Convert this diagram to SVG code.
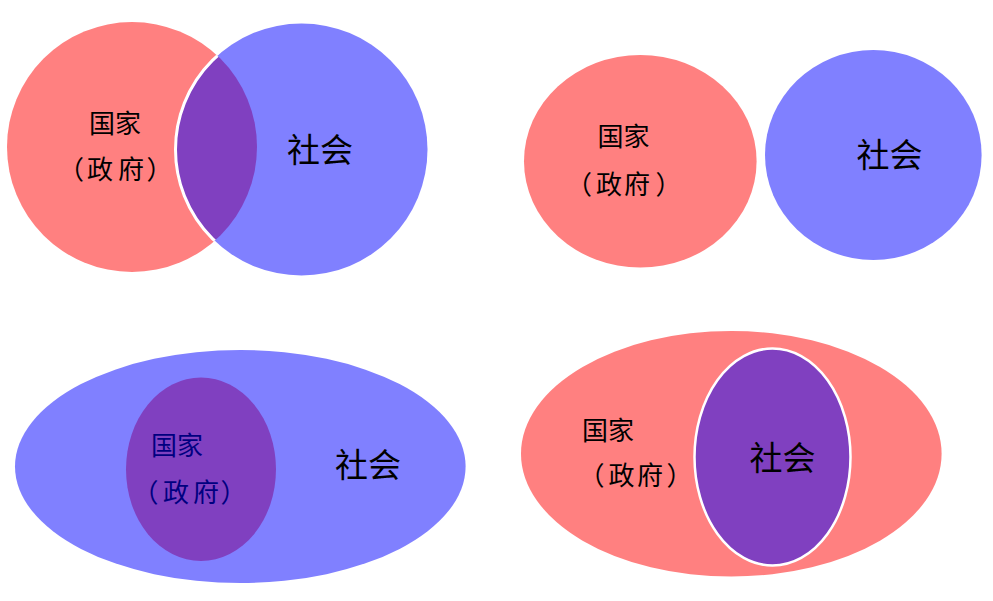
<svg xmlns="http://www.w3.org/2000/svg" width="993" height="601" viewBox="0 0 993 601">
<style>
.red{fill:#FF8080}
.blue{fill:#8080FF}
.purple{fill:#8040C0}
.t{font-family:"Liberation Serif","Noto Sans CJK SC",serif;text-anchor:middle;fill:#000}
.s{font-size:26px}
.l{font-size:33px}
.navy{fill:#000080}
</style>
<defs>
<clipPath id="redClip"><circle cx="132" cy="147" r="125"/></clipPath>
</defs>
<rect width="993" height="601" fill="#fff"/>
<g id="venn-overlap">
<circle class="red" cx="132" cy="147" r="125"/>
<circle class="blue" cx="301.5" cy="149.5" r="126"/>
<circle class="purple" cx="301.5" cy="149.5" r="126" clip-path="url(#redClip)"/>
<circle cx="301.5" cy="149.5" r="126" fill="none" stroke="#fff" stroke-width="3" clip-path="url(#redClip)"/>
<text class="t s" x="115" y="133">国家</text>
<text class="t s" x="71 100 131 159.5" y="179">（政府）</text>
<text class="t l" x="320" y="162">社会</text>
</g>
<g id="venn-separate">
<ellipse class="red" cx="640.3" cy="161.3" rx="116.3" ry="106.3"/>
<ellipse class="blue" cx="873.3" cy="155" rx="108.3" ry="105"/>
<text class="t s" x="623.5" y="146">国家</text>
<text class="t s" x="579 609 637 668.5" y="194">（政府）</text>
<text class="t l" x="889.5" y="167">社会</text>
</g>
<g id="venn-state-in-society">
<ellipse class="blue" cx="240.3" cy="466.5" rx="225.3" ry="116.5"/>
<ellipse class="purple" cx="201" cy="469.3" rx="75" ry="91.7"/>
<text class="t s navy" x="177" y="455">国家</text>
<text class="t s navy" x="145.5 176 206 233.5" y="502">（政府）</text>
<text class="t l" x="368" y="477">社会</text>
</g>
<g id="venn-society-in-state">
<ellipse class="red" cx="731.3" cy="453.8" rx="210.3" ry="122.8"/>
<ellipse class="purple" cx="772.5" cy="457" rx="78" ry="108.5" stroke="#fff" stroke-width="2.5"/>
<text class="t s" x="608" y="440">国家</text>
<text class="t s" x="591.5 621.5 650 679.5" y="485">（政府）</text>
<text class="t l" x="782.5" y="470">社会</text>
</g>
</svg>
